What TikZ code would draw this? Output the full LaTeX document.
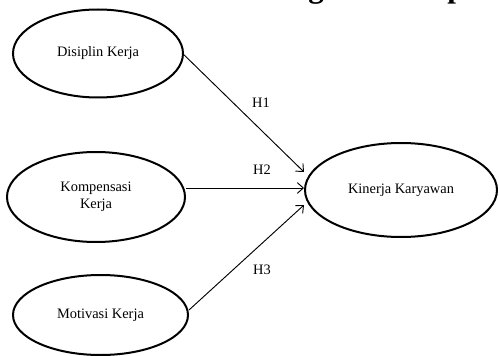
\documentclass[tikz,border=0pt]{standalone}
\usepackage{fontspec}
\setmainfont{Liberation Serif}
\usetikzlibrary{shapes.geometric,arrows.meta}
\begin{document}
\begin{tikzpicture}[x=0.75pt,y=-0.75pt,
  var/.style={ellipse,draw,line width=1.5pt,inner sep=0pt,align=center,font=\fontsize{10.8}{13}\selectfont},
  path/.style={line width=0.7pt,-{Straight Barb[length=4.5pt,width=8pt,line width=0.7pt]}},
  hlab/.style={font=\fontsize{10.8}{13}\selectfont,inner sep=0pt}]
\useasboundingbox (0,0) rectangle (499,356);
\node[anchor=base west,inner sep=0pt,font=\bfseries\fontsize{23.3}{28}\selectfont] (title) at (223.6,-2.5) {Kerangka Konseptual};
\node[var,minimum width=127.5pt,minimum height=66pt] (dk) at (98,53.5) {Disiplin Kerja};
\node[var,minimum width=133.5pt,minimum height=67.5pt] (ks) at (96,197) {Kompensasi\\Kerja};
\node[var,minimum width=131.25pt,minimum height=60pt] (mv) at (100.5,315) {Motivasi Kerja};
\node[var,minimum width=144pt,minimum height=70.5pt] (kk) at (401,190) {Kinerja Karyawan};
\draw[path] ([yshift=-1pt]dk.east) -- ([yshift=13.5pt]kk.west);
\draw[path] ([yshift=6.75pt]ks.east) -- ([yshift=1.5pt]kk.west);
\draw[path] ([yshift=3.75pt]mv.east) -- ([yshift=-11.25pt]kk.west);
\node[hlab] (h1) at (261,103) {H1};
\node[hlab] (h2) at (262,170) {H2};
\node[hlab] (h3) at (262,270) {H3};
\end{tikzpicture}
\end{document}
